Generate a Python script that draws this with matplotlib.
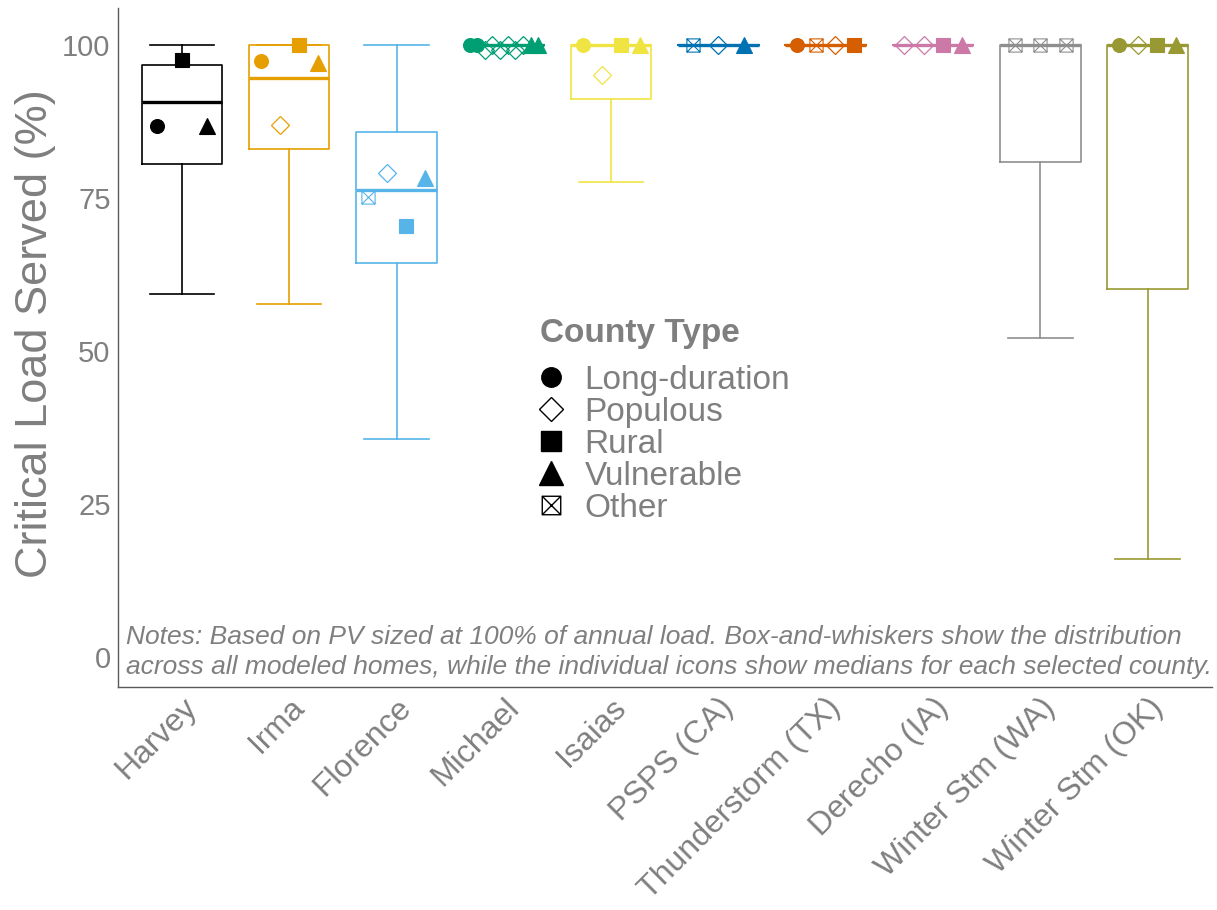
import matplotlib
matplotlib.use("Agg")
import matplotlib.pyplot as plt
from matplotlib.lines import Line2D
from matplotlib.path import Path

plt.rcParams["font.family"] = ["Liberation Sans", "DejaVu Sans"]

# events (x categories) and their box colours
EVENTS = ["Harvey", "Irma", "Florence", "Michael", "Isaias", "PSPS (CA)",
          "Thunderstorm (TX)", "Derecho (IA)", "Winter Stm (WA)", "Winter Stm (OK)"]
EVENT_COLORS = ["#000000", "#E69F00", "#56B4E9", "#009E73", "#F0E442",
                "#0072B2", "#D55E00", "#CC79A7", "#8F8F8F", "#999933"]

# box-and-whisker stats across all modeled homes (%)
WHIS_LO = [59.2, 57.7, 35.6, 100, 77.6, 100, 100, 100, 52.1, 16.0]
Q1 = [80.5, 83.0, 64.3, 100, 91.2, 100, 100, 100, 80.9, 60.1]
MEDIAN = [90.6, 94.6, 76.3, 100, 100, 100, 100, 100, 100, 100]
Q3 = [96.7, 100, 85.7, 100, 100, 100, 100, 100, 100, 100]
WHIS_HI = [100, 100, 100, 100, 100, 100, 100, 100, 100, 100]

# county medians per event: (county type, value)
COUNTY_TYPES = ["Long-duration", "Populous", "Rural", "Vulnerable", "Other"]
COUNTY_MEDIANS = [
    [("Long-duration", 86.7), ("Rural", 97.5), ("Vulnerable", 86.7)],
    [("Long-duration", 97.3), ("Populous", 86.9), ("Rural", 100), ("Vulnerable", 97.0)],
    [("Other", 75.2), ("Populous", 79.0), ("Rural", 70.4), ("Vulnerable", 78.2)],
    [("Long-duration", 100), ("Long-duration", 100), ("Populous", 99.2), ("Populous", 100),
     ("Populous", 99.2), ("Populous", 100), ("Populous", 99.2), ("Populous", 100),
     ("Vulnerable", 100), ("Vulnerable", 100)],
    [("Long-duration", 100), ("Populous", 95.1), ("Rural", 100), ("Vulnerable", 100)],
    [("Other", 100), ("Populous", 100), ("Vulnerable", 100)],
    [("Long-duration", 100), ("Other", 100), ("Populous", 100), ("Rural", 100)],
    [("Populous", 100), ("Populous", 100), ("Rural", 100), ("Vulnerable", 100)],
    [("Other", 100), ("Other", 100), ("Other", 100)],
    [("Long-duration", 100), ("Populous", 100), ("Rural", 100), ("Vulnerable", 100)],
]

NOTES = ("Notes: Based on PV sized at 100% of annual load. Box-and-whiskers show the distribution\n"
         "across all modeled homes, while the individual icons show medians for each selected county.")

TEXT_GREY = "#7F7F7F"
AXIS_GREY = "#5A5A5A"

OTHER_MARKER = Path(
    [(-1, -1), (1, -1), (1, 1), (-1, 1), (-1, -1), (-1, -1), (1, 1), (-1, 1), (1, -1)],
    [Path.MOVETO, Path.LINETO, Path.LINETO, Path.LINETO, Path.CLOSEPOLY,
     Path.MOVETO, Path.LINETO, Path.MOVETO, Path.LINETO],
)

MARKER_STYLE = {
    "Long-duration": dict(marker="o", ms=10, filled=True, mew=0.8),
    "Populous": dict(marker="D", ms=9, filled=False, mew=0.9),
    "Rural": dict(marker="s", ms=10, filled=True, mew=0.8),
    "Vulnerable": dict(marker="^", ms=12, filled=True, mew=0.8),
    "Other": dict(marker=OTHER_MARKER, ms=9.5, filled=False, mew=0.8),
}


def draw_marker(ax, x, y, ctype, color, zorder=5):
    st = MARKER_STYLE[ctype]
    ax.plot([x], [y], linestyle="none", marker=st["marker"], ms=st["ms"],
            mfc=color if st["filled"] else "none", mec=color, mew=st["mew"], zorder=zorder)


fig = plt.figure(figsize=(12.17, 9.10), dpi=100)
ax = fig.add_axes([0.0966, 0.2451, 0.8993, 0.7462])

positions = list(range(1, len(EVENTS) + 1))
stats = []
for i, name in enumerate(EVENTS):
    stats.append(dict(label=name, whislo=WHIS_LO[i], q1=Q1[i], med=MEDIAN[i],
                      q3=Q3[i], whishi=WHIS_HI[i], fliers=[]))

art = ax.bxp(stats, positions=positions, widths=0.75, capwidths=0.6,
             showfliers=False, patch_artist=False, manage_ticks=False)
for i, color in enumerate(EVENT_COLORS):
    art["boxes"][i].set(color=color, linewidth=1.2)
    art["medians"][i].set(color=color, linewidth=2.4)
    for k in (2 * i, 2 * i + 1):
        art["whiskers"][k].set(color=color, linewidth=1.2)
        art["caps"][k].set(color=color, linewidth=1.2)

# dodge county medians within each event
dodge_w = 0.71
for i, counties in enumerate(COUNTY_MEDIANS):
    n = len(counties)
    for j, (ctype, val) in enumerate(counties):
        x = positions[i] + (j - (n - 1) / 2) * dodge_w / n
        draw_marker(ax, x, val, ctype, EVENT_COLORS[i])

ax.set_xlim(0.4, 10.6)
ax.set_ylim(-4.9, 106)
ax.set_yticks([0, 25, 50, 75, 100])
ax.set_xticks(positions)
ax.set_xticklabels(EVENTS, rotation=45, ha="right", va="top", rotation_mode="anchor")
ax.tick_params(axis="y", length=0, labelsize=21, labelcolor=TEXT_GREY, pad=5)
ax.tick_params(axis="x", length=0, labelsize=23, labelcolor=TEXT_GREY, pad=4)
ax.set_ylabel("Critical Load Served (%)", fontsize=32.5, color=TEXT_GREY)
ax.yaxis.set_label_coords(-0.056, 0.52)

for side in ("top", "right"):
    ax.spines[side].set_visible(False)
for side in ("left", "bottom"):
    ax.spines[side].set_color(AXIS_GREY)
    ax.spines[side].set_linewidth(1.0)

ax.text(0.008, 0.012, NOTES, transform=ax.transAxes, ha="left", va="bottom",
        fontsize=19, style="italic", color=TEXT_GREY, linespacing=1.3)

# legend: title as its own text, entries below
ax.text(0.386, 0.521, "County Type", transform=ax.transAxes, ha="left", va="center",
        fontsize=24, fontweight="bold", color=TEXT_GREY)
handles = []
for ctype in COUNTY_TYPES:
    st = MARKER_STYLE[ctype]
    handles.append(Line2D([], [], linestyle="none", marker=st["marker"], ms=st["ms"] * 1.4,
                          mfc="black" if st["filled"] else "none", mec="black", mew=1.0))
leg = ax.legend(handles, COUNTY_TYPES, loc="upper left", bbox_to_anchor=(0.385, 0.4746),
                frameon=False, fontsize=24, labelspacing=0.03, handletextpad=0.62,
                handlelength=0.75, borderpad=0, borderaxespad=0)
for t in leg.get_texts():
    t.set_color(TEXT_GREY)

fig.savefig("out.png", dpi=100)
